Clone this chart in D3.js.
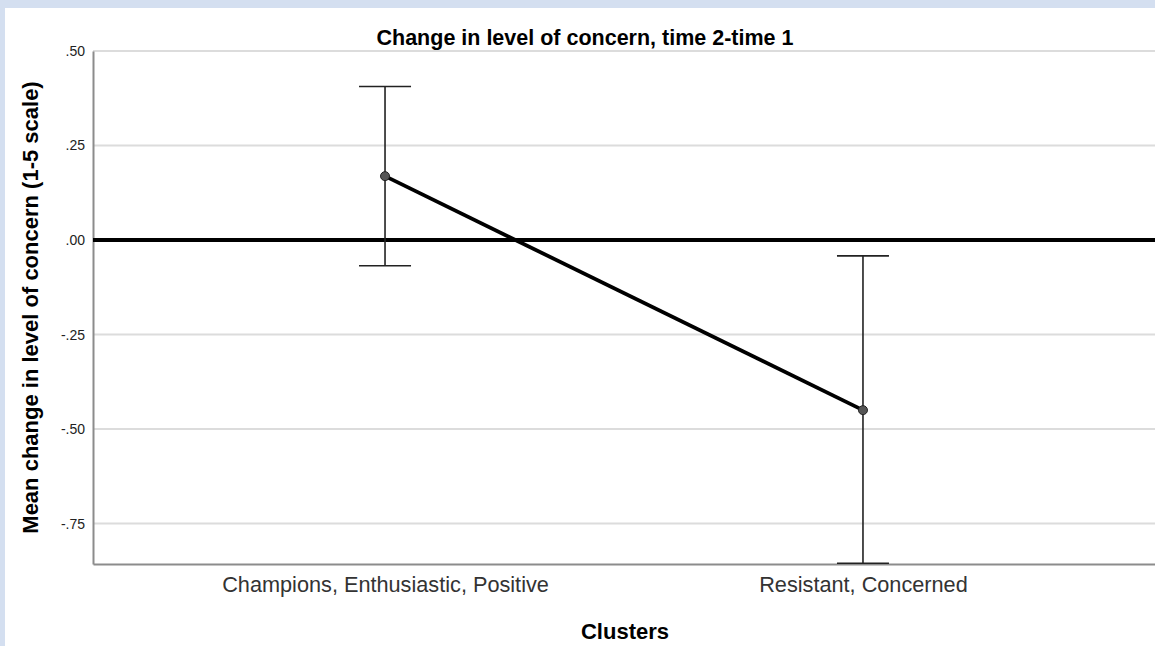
<!DOCTYPE html>
<html>
<head>
<meta charset="utf-8">
<script src="https://cdn.jsdelivr.net/npm/d3@7.9.0/dist/d3.min.js"></script>
<style>
  body { margin: 0; background: #d4dff0; }
  svg { display: block; font-family: "Liberation Sans", Arial, sans-serif; }
</style>
</head>
<body>
<svg id="chart" width="1155" height="646"></svg>
<script>
// data
const clusters = ['Champions, Enthusiastic, Positive', 'Resistant, Concerned'];
const means = [0.169, -0.450];
const ciLow = [-0.068, -0.855];
const ciHigh = [0.406, -0.042];
const yTicks = [0.5, 0.25, 0, -0.25, -0.5, -0.75];

const width = 1155, height = 646;
const margin = { top: 51, right: 0, bottom: 82, left: 93 };
const font = '"Liberation Sans", Arial, sans-serif';

const svg = d3.select('#chart');

// white panel inside the blue frame
svg.append('rect')
  .attr('x', 5).attr('y', 8)
  .attr('width', width - 5).attr('height', height - 8)
  .attr('fill', '#fff');

const x = d3.scalePoint()
  .domain(clusters)
  .range([margin.left, width - margin.right])
  .padding(0.611);

const y = d3.scaleLinear()
  .domain([-0.857, 0.5])
  .range([height - margin.bottom, margin.top]);

// gridlines
svg.append('g')
  .selectAll('line')
  .data(yTicks)
  .join('line')
  .attr('x1', margin.left).attr('x2', width)
  .attr('y1', d => y(d)).attr('y2', d => y(d))
  .attr('stroke', '#dcdcdc').attr('stroke-width', 2);

// y axis (SPSS style: no leading zero, plain hyphen)
const yAxis = svg.append('g')
  .attr('transform', `translate(${margin.left},0)`)
  .call(d3.axisLeft(y).tickValues(yTicks).tickSize(0).tickPadding(8)
    .tickFormat(d => d.toFixed(2).replace(/^(-?)0\./, '$1.')));
yAxis.select('.domain').attr('stroke', '#8c8c8c').attr('stroke-width', 2);
yAxis.selectAll('text')
  .attr('font-size', 14).attr('fill', '#222')
  .attr('font-family', font);

// x axis
const xAxis = svg.append('g')
  .attr('transform', `translate(0,${height - margin.bottom})`)
  .call(d3.axisBottom(x).tickSize(0).tickPadding(13));
xAxis.select('.domain').attr('stroke', '#8c8c8c').attr('stroke-width', 2);
xAxis.selectAll('text')
  .attr('font-size', 21.7).attr('fill', '#333')
  .attr('font-family', font);

// reference line at zero
svg.append('line')
  .attr('x1', margin.left).attr('x2', width)
  .attr('y1', y(0)).attr('y2', y(0))
  .attr('stroke', '#000').attr('stroke-width', 4);

// error bars
const bars = svg.append('g').attr('stroke', '#222').attr('stroke-width', 1.6);
clusters.forEach((c, i) => {
  const cx = x(c);
  bars.append('line').attr('x1', cx).attr('x2', cx)
    .attr('y1', y(ciLow[i])).attr('y2', y(ciHigh[i]));
  [ciLow[i], ciHigh[i]].forEach(v => {
    bars.append('line').attr('x1', cx - 26).attr('x2', cx + 26)
      .attr('y1', y(v)).attr('y2', y(v));
  });
});

// mean line + markers
svg.append('path')
  .datum(means)
  .attr('fill', 'none')
  .attr('stroke', '#000').attr('stroke-width', 3.8)
  .attr('d', d3.line().x((d, i) => x(clusters[i])).y(d => y(d)));

svg.append('g')
  .selectAll('circle')
  .data(means)
  .join('circle')
  .attr('cx', (d, i) => x(clusters[i]))
  .attr('cy', d => y(d))
  .attr('r', 4.5)
  .attr('fill', '#555').attr('stroke', '#222').attr('stroke-width', 1);

// titles
svg.append('text')
  .attr('x', 585).attr('y', 45)
  .attr('text-anchor', 'middle')
  .attr('font-size', 21.5).attr('font-weight', 'bold')
  .text('Change in level of concern, time 2-time 1');

svg.append('text')
  .attr('transform', `translate(38,${(margin.top + height - margin.bottom) / 2}) rotate(-90)`)
  .attr('text-anchor', 'middle')
  .attr('font-size', 22).attr('font-weight', 'bold')
  .text('Mean change in level of concern (1-5 scale)');

svg.append('text')
  .attr('x', 625).attr('y', 639)
  .attr('text-anchor', 'middle')
  .attr('font-size', 22).attr('font-weight', 'bold')
  .text('Clusters');
</script>
</body>
</html>
